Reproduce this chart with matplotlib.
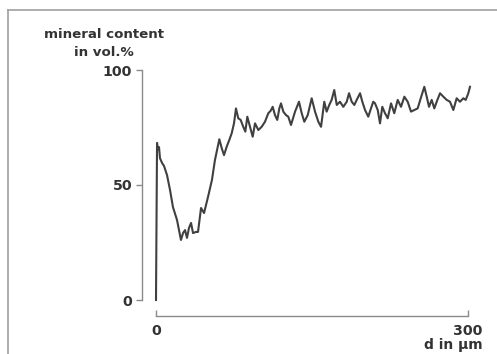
import matplotlib.pyplot as plt
from matplotlib.lines import Line2D

# depth profile
depth = [0, 1.0, 1.9, 2.9, 3.8, 5.8, 7.7, 10.6, 13.5, 16.3, 20.2, 24.0, 26.0, 27.9,
         29.8, 31.7, 33.7, 35.6, 38.5, 40.4, 43.3, 46.2, 50.0, 53.8,
         56.7, 60.9, 63.2, 65.4, 68.0, 70.5, 72.8, 75.0, 76.9, 79.1, 81.4, 83.9,
         85.9, 87.8, 90.4, 93.0, 95.2, 98.4, 101.6, 104.8, 108.0, 110.3, 112.2,
         114.4, 116.6, 118.6, 120.2, 122.4, 125.0,
         127.2, 129.8, 133.7, 137.5, 140.1, 142.6, 145.9, 149.7, 152.9, 156.1,
         158.7, 161.8, 164.1, 166.6, 168.9, 171.4, 173.8, 176.9, 180.1, 183.4,
         185.6, 188.2, 190.7, 193.0, 196.2, 198.4, 201.0, 204.1, 206.7, 208.9,
         210.6, 213.2, 215.4, 217.6, 220.2, 222.8, 226.0, 229.1, 232.4, 235.6,
         238.8, 242.0, 245.2, 248.4, 251.6, 255.5, 258.0, 260.3, 262.5, 265.1,
         267.6, 269.9, 273.1, 276.3, 279.5, 282.7, 285.9, 289.1, 292.3, 295.5,
         297.8, 300.3, 301.9]
mineral = [0, 68.3, 65.2, 66.5, 61.7, 59.6, 58.3, 54.3, 47.8, 40.4, 34.8, 26.1, 29.1,
           30.4, 27.0, 31.3, 33.5, 29.1, 29.6, 29.6, 40.0, 37.8, 44.8, 52.2,
           60.9, 69.9, 66.0, 63.0, 66.7, 69.6, 72.5, 76.8, 83.3, 79.0, 78.3, 75.3,
           73.2, 79.7, 75.3, 71.0, 76.8, 73.9, 75.3, 77.5, 81.2, 82.3, 84.0,
           80.4, 78.3, 83.3, 85.5, 81.9, 80.4,
           79.7, 76.1, 81.9, 86.2, 81.2, 77.5, 80.4, 87.7, 81.9, 77.5,
           75.3, 86.2, 81.9, 84.8, 87.0, 91.3, 84.8, 86.2, 84.0, 86.2,
           89.9, 86.2, 84.8, 87.0, 89.9, 86.2, 82.6, 79.7, 83.3, 86.2,
           85.5, 82.6, 76.8, 84.0, 81.2, 79.0, 85.5, 81.2, 87.0, 84.0,
           88.4, 86.2, 81.9, 82.6, 83.3, 89.1, 92.7, 88.4, 84.0, 87.0,
           83.3, 86.2, 89.9, 88.4, 87.0, 86.2, 82.6, 87.7, 86.2, 87.7,
           87.0, 89.9, 92.7]

yticks = [0, 50, 100]
xticks = [0, 300]

plt.rcParams['font.family'] = ['DejaVu Sans']
plt.rcParams['font.weight'] = 'bold'

W, H = 497, 354
fig = plt.figure(figsize=(W / 100, H / 100), dpi=100)
ax = fig.add_axes([156 / W, (H - 300) / H, (468 - 156) / W, 230 / H])

ax.plot(depth, mineral, color='#404040', lw=1.5, clip_on=False)
ax.set_xlim(0, 300)
ax.set_ylim(0, 100)

spine_col = '#8a8a8a'
txt_col = '#333333'
for s in ['top', 'right']:
    ax.spines[s].set_visible(False)
ax.spines['left'].set_position(('outward', 14 * 0.72))
ax.spines['bottom'].set_position(('outward', 16 * 0.72))
for s in ['left', 'bottom']:
    ax.spines[s].set_color(spine_col)
    ax.spines[s].set_linewidth(1.0)

ax.set_yticks(yticks)
ax.set_xticks(xticks)
ax.tick_params(axis='y', direction='out', length=4, width=1, color=spine_col,
               labelsize=10.3, labelcolor=txt_col, pad=3)
ax.tick_params(axis='x', direction='in', length=4, width=1, color=spine_col,
               labelsize=10.3, labelcolor=txt_col, pad=6)
for lab in ax.get_xticklabels() + ax.get_yticklabels():
    lab.set_fontweight('bold')

fig.text(104 / W, 1 - 34 / H, 'mineral content', ha='center', va='center',
         fontsize=9.6, fontweight='bold', color=txt_col)
fig.text(104 / W, 1 - 52.5 / H, 'in vol.%', ha='center', va='center',
         fontsize=9.6, fontweight='bold', color=txt_col)
fig.text(483 / W, 1.5 / H, 'd in µm', ha='right', va='bottom',
         fontsize=10, fontweight='bold', color=txt_col)

# outer frame (top and left edges visible)
fig.add_artist(Line2D([7.5 / W, 7.5 / W], [0, 1 - 10 / H], color='#a0a0a0', lw=1.2))
fig.add_artist(Line2D([7.5 / W, 1], [1 - 10 / H, 1 - 10 / H], color='#a0a0a0', lw=1.2))

fig.savefig('out.png', dpi=100)
